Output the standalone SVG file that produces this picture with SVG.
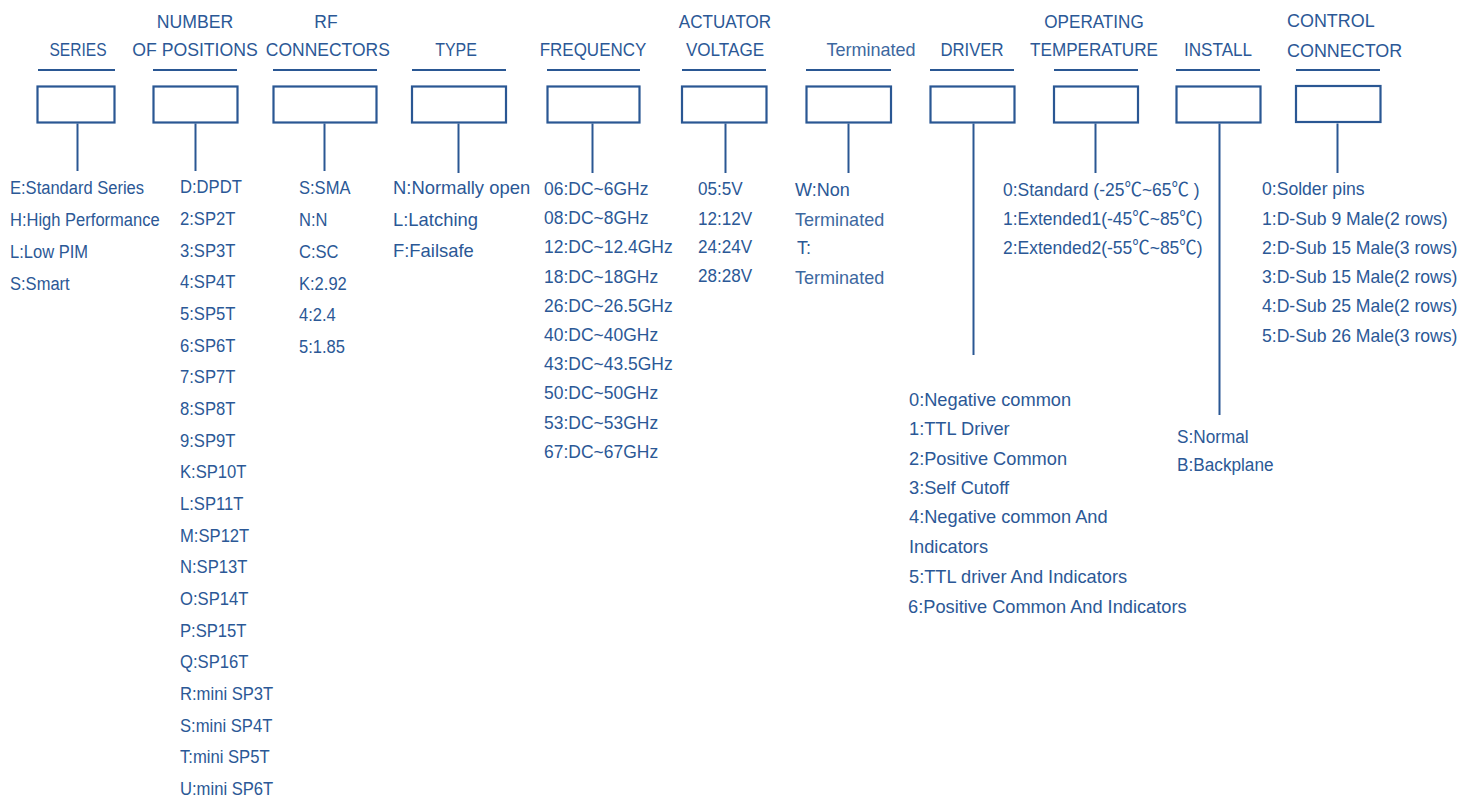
<svg xmlns="http://www.w3.org/2000/svg" width="1474" height="799" viewBox="0 0 1474 799">
<style>
.ln{stroke:#2a5793;stroke-width:2;fill:none}
.bx{stroke:#2a5793;stroke-width:2.2;fill:#ffffff}
text{font-family:"Liberation Sans","Noto Sans CJK SC",sans-serif;font-size:19px;fill:#2b5896}
.hd{text-anchor:middle}
.lt{fill:#3d68a0}
</style>
<rect width="1474" height="799" fill="#ffffff"/>
<g id="connectors">
<line class="ln" x1="77.5" y1="123.5" x2="77.5" y2="171"/>
<line class="ln" x1="195.5" y1="123.5" x2="195.5" y2="171"/>
<line class="ln" x1="324.5" y1="123.5" x2="324.5" y2="171"/>
<line class="ln" x1="458.5" y1="123.5" x2="458.5" y2="173"/>
<line class="ln" x1="592.5" y1="123.5" x2="592.5" y2="173"/>
<line class="ln" x1="725.5" y1="123.5" x2="725.5" y2="173"/>
<line class="ln" x1="848.5" y1="123.5" x2="848.5" y2="173"/>
<line class="ln" x1="973.5" y1="123.5" x2="973.5" y2="355"/>
<line class="ln" x1="1095.5" y1="123.5" x2="1095.5" y2="173"/>
<line class="ln" x1="1219.5" y1="123.5" x2="1219.5" y2="415"/>
<line class="ln" x1="1337.5" y1="123.5" x2="1337.5" y2="173"/>
</g>
<g id="series">
<g transform="translate(78,0) scale(0.82,1)"><text class="hd" x="0" y="56">SERIES</text></g>
<line class="ln" x1="38" y1="70" x2="115" y2="70"/>
<rect class="bx" x="37.5" y="86.5" width="77" height="36"/>
<g transform="translate(10,0) scale(0.87,1)">
<text x="0" y="194">E:Standard Series</text>
<text x="0" y="226">H:High Performance</text>
<text x="0" y="258">L:Low PIM</text>
<text x="0" y="290">S:Smart</text>
</g>
</g>
<g id="positions">
<g transform="translate(195,0) scale(0.93,1)"><text class="hd" x="0" y="28">NUMBER</text><text class="hd" x="0" y="56">OF POSITIONS</text></g>
<line class="ln" x1="153" y1="70" x2="237" y2="70"/>
<rect class="bx" x="153.5" y="86.5" width="84" height="36"/>
<g transform="translate(180,0) scale(0.875,1)">
<text x="0" y="193">D:DPDT</text>
<text x="0" y="225">2:SP2T</text>
<text x="0" y="257">3:SP3T</text>
<text x="0" y="288">4:SP4T</text>
<text x="0" y="320">5:SP5T</text>
<text x="0" y="352">6:SP6T</text>
<text x="0" y="383">7:SP7T</text>
<text x="0" y="415">8:SP8T</text>
<text x="0" y="447">9:SP9T</text>
<text x="0" y="478">K:SP10T</text>
<text x="0" y="510">L:SP11T</text>
<text x="0" y="542">M:SP12T</text>
<text x="0" y="573">N:SP13T</text>
<text x="0" y="605">O:SP14T</text>
<text x="0" y="637">P:SP15T</text>
<text x="0" y="668">Q:SP16T</text>
<text x="0" y="700">R:mini SP3T</text>
<text x="0" y="732">S:mini SP4T</text>
<text x="0" y="763">T:mini SP5T</text>
<text x="0" y="795">U:mini SP6T</text>
</g>
</g>
<g id="rf-connectors">
<g transform="translate(326,0) scale(0.92,1)"><text class="hd" x="0" y="28">RF</text><text class="hd" x="2" y="56">CONNECTORS</text></g>
<line class="ln" x1="273" y1="70" x2="377" y2="70"/>
<rect class="bx" x="273.5" y="86.5" width="103" height="36"/>
<g transform="translate(299,0) scale(0.87,1)">
<text x="0" y="194">S:SMA</text>
<text x="0" y="226">N:N</text>
<text x="0" y="258">C:SC</text>
<text x="0" y="290">K:2.92</text>
<text x="0" y="321">4:2.4</text>
<text x="0" y="353">5:1.85</text>
</g>
</g>
<g id="type">
<g transform="translate(456,0) scale(0.84,1)"><text class="hd" x="0" y="56">TYPE</text></g>
<line class="ln" x1="412" y1="70" x2="506" y2="70"/>
<rect class="bx" x="412" y="86.5" width="94" height="36"/>
<g transform="translate(393,0) scale(0.97,1)">
<text x="0" y="194">N:Normally open</text>
<text x="0" y="226">L:Latching</text>
<text x="0" y="257">F:Failsafe</text>
</g>
</g>
<g id="frequency">
<g transform="translate(593,0) scale(0.894,1)"><text class="hd" x="0" y="56">FREQUENCY</text></g>
<line class="ln" x1="547" y1="70" x2="640" y2="70"/>
<rect class="bx" x="547.5" y="86.5" width="92" height="36"/>
<g transform="translate(544,0) scale(0.92,1)">
<text x="0" y="195">06:DC~6GHz</text>
<text x="0" y="224.2">08:DC~8GHz</text>
<text x="0" y="253.4">12:DC~12.4GHz</text>
<text x="0" y="282.6">18:DC~18GHz</text>
<text x="0" y="311.8">26:DC~26.5GHz</text>
<text x="0" y="341">40:DC~40GHz</text>
<text x="0" y="370.2">43:DC~43.5GHz</text>
<text x="0" y="399.4">50:DC~50GHz</text>
<text x="0" y="428.6">53:DC~53GHz</text>
<text x="0" y="457.8">67:DC~67GHz</text>
</g>
</g>
<g id="actuator-voltage">
<g transform="translate(725,0) scale(0.9,1)"><text class="hd" x="0" y="28">ACTUATOR</text><text class="hd" x="0" y="56">VOLTAGE</text></g>
<line class="ln" x1="682" y1="70" x2="766" y2="70"/>
<rect class="bx" x="682" y="86.5" width="84.5" height="36"/>
<g transform="translate(698,0) scale(0.9,1)">
<text x="0" y="195">05:5V</text>
<text x="0" y="225">12:12V</text>
<text x="0" y="253">24:24V</text>
<text x="0" y="282">28:28V</text>
</g>
</g>
<g id="terminated">
<g transform="translate(871,0) scale(0.95,1)"><text class="hd lt" x="0" y="56">Terminated</text></g>
<line class="ln" x1="806" y1="70" x2="891" y2="70"/>
<rect class="bx" x="806.5" y="86.5" width="84.5" height="36"/>
<g transform="translate(795,0) scale(0.95,1)">
<text x="0" y="196">W:Non</text>
<text class="lt" x="0" y="226">Terminated</text>
<text x="2" y="254">T:</text>
<text class="lt" x="0" y="284">Terminated</text>
</g>
</g>
<g id="driver">
<g transform="translate(972,0) scale(0.88,1)"><text class="hd" x="0" y="56">DRIVER</text></g>
<line class="ln" x1="930" y1="70" x2="1014" y2="70"/>
<rect class="bx" x="930.5" y="86.5" width="84" height="36"/>
<g transform="translate(909,0) scale(0.96,1)">
<text x="0" y="406">0:Negative common</text>
<text x="0" y="435">1:TTL Driver</text>
<text x="0" y="465">2:Positive Common</text>
<text x="0" y="494">3:Self Cutoff</text>
<text x="0" y="523">4:Negative common And</text>
<text x="0" y="553">Indicators</text>
<text x="0" y="583">5:TTL driver And Indicators</text>
<text x="-1" y="613">6:Positive Common And Indicators</text>
</g>
</g>
<g id="operating-temperature">
<g transform="translate(1094,0) scale(0.9,1)"><text class="hd" x="0" y="28">OPERATING</text><text class="hd" x="0" y="56">TEMPERATURE</text></g>
<line class="ln" x1="1054" y1="70" x2="1138" y2="70"/>
<rect class="bx" x="1054" y="86.5" width="84" height="36"/>
<g transform="translate(1003,0) scale(0.92,1)">
<text x="0" y="196">0:Standard (-25℃~65℃ )</text>
<text x="0" y="225">1:Extended1(-45℃~85℃)</text>
<text x="0" y="254">2:Extended2(-55℃~85℃)</text>
</g>
</g>
<g id="install">
<g transform="translate(1218,0) scale(0.9,1)"><text class="hd" x="0" y="56">INSTALL</text></g>
<line class="ln" x1="1176" y1="70" x2="1260" y2="70"/>
<rect class="bx" x="1176.5" y="86.5" width="84" height="36"/>
<g transform="translate(1177,0) scale(0.906,1)">
<text x="0" y="443">S:Normal</text>
<text x="0" y="471">B:Backplane</text>
</g>
</g>
<g id="control-connector">
<g transform="translate(1287,0) scale(0.944,1)"><text x="0" y="27">CONTROL</text><text x="0" y="57">CONNECTOR</text></g>
<line class="ln" x1="1296" y1="70" x2="1380" y2="70"/>
<rect class="bx" x="1296" y="86" width="84.5" height="36"/>
<g transform="translate(1262,0) scale(0.926,1)">
<text x="0" y="195">0:Solder pins</text>
<text x="0" y="225">1:D-Sub 9 Male(2 rows)</text>
<text x="0" y="254">2:D-Sub 15 Male(3 rows)</text>
<text x="0" y="283">3:D-Sub 15 Male(2 rows)</text>
<text x="0" y="312">4:D-Sub 25 Male(2 rows)</text>
<text x="0" y="342">5:D-Sub 26 Male(3 rows)</text>
</g>
</g>
</svg>
